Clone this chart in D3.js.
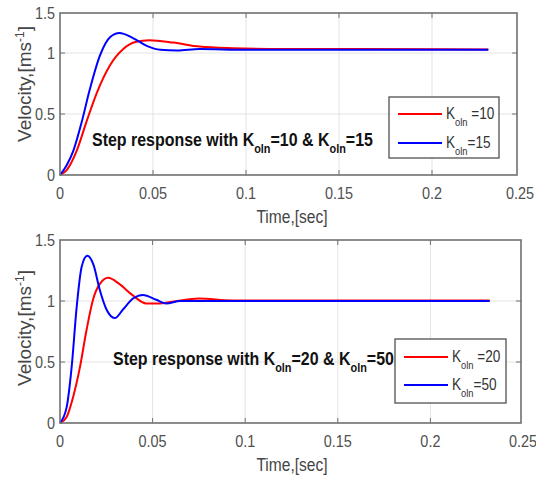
<!DOCTYPE html>
<html>
<head>
<meta charset="utf-8">
<script src="https://cdn.jsdelivr.net/npm/d3@7"></script>
<style>
  body { margin: 0; background: #fff; }
  svg text { font-family: "Liberation Sans", Arial, sans-serif; }
</style>
</head>
<body>
<div id="wrapper"></div>
<script>
// data
const xTicks = [0, 0.05, 0.1, 0.15, 0.2, 0.25]
const yTicks = [0, 0.5, 1, 1.5]

const timeTopK10 = [0, 0.0036, 0.009, 0.0143, 0.0197, 0.0269, 0.034, 0.041, 0.048, 0.061, 0.075, 0.093, 0.12, 0.16, 0.232]
const velTopK10  = [0, 0.04, 0.2, 0.44, 0.67, 0.90, 1.05, 1.14, 1.16, 1.13, 1.08, 1.06, 1.05, 1.05, 1.045]
const timeTopK15 = [0, 0.0036, 0.0072, 0.0116, 0.016, 0.0215, 0.027, 0.032, 0.039, 0.0466, 0.054, 0.063, 0.075, 0.1, 0.232]
const velTopK15  = [0, 0.08, 0.2, 0.43, 0.70, 0.98, 1.20, 1.25, 1.19, 1.09, 1.04, 1.03, 1.05, 1.04, 1.04]

const timeBotK20 = [0, 0.0036, 0.0072, 0.0108, 0.0143, 0.018, 0.0215, 0.026, 0.032, 0.039, 0.0466, 0.054, 0.063, 0.075, 0.093, 0.232]
const velBotK20  = [0, 0.05, 0.22, 0.46, 0.76, 1.02, 1.14, 1.19, 1.14, 1.05, 0.98, 0.98, 1.0, 1.02, 1.005, 1.005]
const timeBotK50 = [0, 0.0036, 0.0063, 0.009, 0.0117, 0.0147, 0.018, 0.0215, 0.0251, 0.0296, 0.034, 0.0394, 0.0448, 0.052, 0.0573, 0.065, 0.08, 0.232]
const velBotK50  = [0, 0.13, 0.46, 0.95, 1.28, 1.37, 1.30, 1.09, 0.93, 0.86, 0.93, 1.02, 1.05, 1.01, 0.98, 1.0, 1.0, 1.0]

const zip = (ts, vs) => ts.map((t, i) => ({ t: t, v: vs[i] }))

const svg = d3.select("#wrapper")
    .append("svg")
    .attr("width", 536)
    .attr("height", 481)

// the picture's lettering is squeezed sideways, so text is drawn with a horizontal scale
function narrowText(parent, x, y, sx) {
    return parent.append("g")
        .attr("transform", `translate(${x}, ${y}) scale(${sx}, 1)`)
        .append("text")
}

function drawPanel(opts) {
    const x = opts.x, y = opts.y
    const [x0, x1] = [x(0), opts.xRight]
    const [y0, y1] = [y(0), opts.yTop]
    const g = svg.append("g")
    const innerX = xTicks.filter(d => x(d) > x0 + 1 && x(d) < x1 - 1)
    const innerY = yTicks.filter(d => y(d) < y0 - 1 && y(d) > y1 + 1)

    // grid
    g.selectAll(".gx").data(innerX)
        .enter().append("line")
        .attr("x1", d => x(d)).attr("x2", d => x(d))
        .attr("y1", y1).attr("y2", y0)
        .attr("stroke", "#e3e3e3").attr("stroke-width", 1)
    g.selectAll(".gy").data(innerY)
        .enter().append("line")
        .attr("x1", x0).attr("x2", x1)
        .attr("y1", d => y(d)).attr("y2", d => y(d))
        .attr("stroke", "#e3e3e3").attr("stroke-width", 1)

    // curves
    const line = d3.line()
        .x(d => x(d.t))
        .y(d => y(d.v))
        .curve(d3.curveMonotoneX)
    opts.series.forEach(s => {
        g.append("path")
            .datum(s.data)
            .attr("fill", "none")
            .attr("stroke", s.color)
            .attr("stroke-width", 2)
            .attr("d", line)
    })

    // inward ticks on all sides
    const tl = 5
    innerX.forEach(d => {
        g.append("line").attr("x1", x(d)).attr("x2", x(d)).attr("y1", y0).attr("y2", y0 - tl).attr("stroke", "#707070")
        g.append("line").attr("x1", x(d)).attr("x2", x(d)).attr("y1", y1).attr("y2", y1 + tl).attr("stroke", "#707070")
    })
    innerY.forEach(d => {
        g.append("line").attr("x1", x0).attr("x2", x0 + tl).attr("y1", y(d)).attr("y2", y(d)).attr("stroke", "#707070")
        g.append("line").attr("x1", x1).attr("x2", x1 - tl).attr("y1", y(d)).attr("y2", y(d)).attr("stroke", "#707070")
    })

    // box
    g.append("rect")
        .attr("x", x0).attr("y", y1)
        .attr("width", x1 - x0).attr("height", y0 - y1)
        .attr("fill", "none").attr("stroke", "#707070").attr("stroke-width", 1.6)

    // tick labels
    xTicks.forEach(d => {
        narrowText(g, x(d), y0 + 24, 0.85)
            .attr("text-anchor", "middle")
            .attr("font-size", 17).attr("fill", "#505050")
            .text(d)
    })
    yTicks.forEach(d => {
        narrowText(g, x0 - 5, y(d) + 6, 0.85)
            .attr("text-anchor", "end")
            .attr("font-size", 17).attr("fill", "#505050")
            .text(d)
    })

    // axis titles
    narrowText(g, opts.xLabelMid, y0 + 48, 0.82)
        .attr("text-anchor", "middle")
        .attr("font-size", 19).attr("fill", "#454545")
        .text("Time,[sec]")
    const yl = g.append("text")
        .attr("transform", `translate(31, ${opts.yLabelMid}) rotate(-90)`)
        .attr("text-anchor", "middle")
        .attr("font-size", 19).attr("fill", "#454545")
    yl.append("tspan").text("Velocity,[ms")
    yl.append("tspan").attr("dy", -7).attr("font-size", 12).text("-1")
    yl.append("tspan").attr("dy", 7).text("]")

    // annotation
    const ann = narrowText(g, opts.annX, opts.annY, 0.84)
        .attr("font-size", 19).attr("font-weight", "bold").attr("fill", "#111")
    ann.append("tspan").text("Step response with K")
    ann.append("tspan").attr("dy", 7).attr("font-size", 13).text("oln")
    ann.append("tspan").attr("dy", -7).text(`=${opts.gains[0]} & K`)
    ann.append("tspan").attr("dy", 7).attr("font-size", 13).text("oln")
    ann.append("tspan").attr("dy", -7).text(`=${opts.gains[1]}`)

    // legend
    const lg = opts.legend
    g.append("rect")
        .attr("x", lg.x).attr("y", lg.y).attr("width", lg.w).attr("height", lg.h)
        .attr("fill", "#fff").attr("stroke", "#505050").attr("stroke-width", 1.3)
    opts.series.forEach((s, i) => {
        const ly = lg.y + lg.rowY[i]
        g.append("line")
            .attr("x1", lg.x + 9).attr("x2", lg.x + 53)
            .attr("y1", ly).attr("y2", ly)
            .attr("stroke", s.color).attr("stroke-width", 2)
        const t = narrowText(g, lg.x + 57, ly + 5, 0.85)
            .attr("font-size", 16).attr("fill", "#333")
        t.append("tspan").text("K")
        t.append("tspan").attr("dy", 7).attr("font-size", 11).text("oln")
        t.append("tspan").attr("dy", -7).text((i === 0 ? " =" : "=") + s.gain)
    })
}

// top panel: the picture's axis spacing is uneven, so piecewise scales follow it
drawPanel({
    x: d3.scaleLinear().domain([0, 0.2, 0.25]).range([60, 432, 520]),
    xRight: 517,
    y: d3.scaleLinear().domain([0, 1, 1.5]).range([175, 53, 13]),
    yTop: 13,
    yLabelMid: 84,
    xLabelMid: 292,
    annX: 92, annY: 146,
    gains: [10, 15],
    legend: { x: 389, y: 97, w: 110, h: 61, rowY: [17, 46] },
    series: [
        { data: zip(timeTopK10, velTopK10), color: "#ff0000", gain: 10 },
        { data: zip(timeTopK15, velTopK15), color: "#0000ff", gain: 15 }
    ]
})

// bottom panel
drawPanel({
    x: d3.scaleLinear().domain([0, 0.25]).range([60, 523]),
    xRight: 521,
    y: d3.scaleLinear().domain([0, 1.5]).range([423, 240]),
    yTop: 240,
    yLabelMid: 328,
    xLabelMid: 292,
    annX: 113, annY: 365,
    gains: [20, 50],
    legend: { x: 395, y: 339, w: 111, h: 64, rowY: [18, 46] },
    series: [
        { data: zip(timeBotK20, velBotK20), color: "#ff0000", gain: 20 },
        { data: zip(timeBotK50, velBotK50), color: "#0000ff", gain: 50 }
    ]
})
</script>
</body>
</html>
